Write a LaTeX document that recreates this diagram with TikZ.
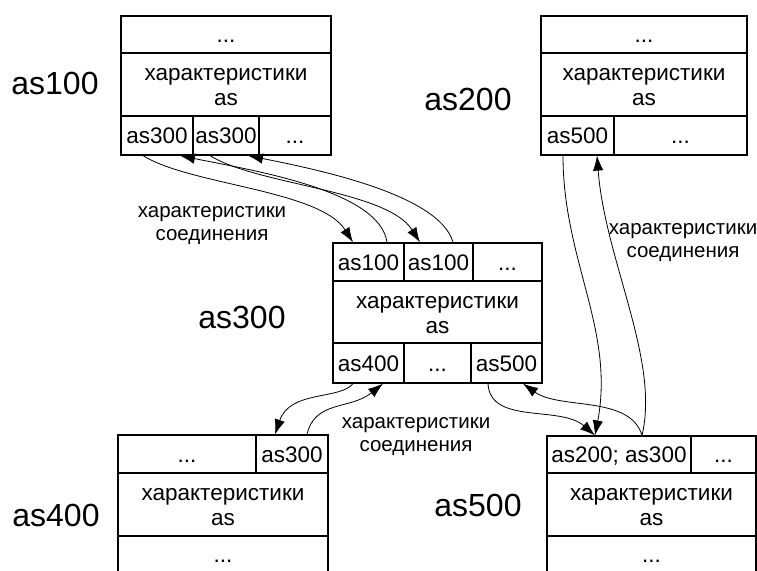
\documentclass[tikz,border=0pt]{standalone}
\usepackage{fontspec}
\setmainfont{Liberation Sans}
\usetikzlibrary{arrows.meta}

\begin{document}
\begin{tikzpicture}[x=1pt,y=-1pt,>={Latex[length=15pt,width=10.5pt]},
  cell/.style={draw,line width=1.2pt,inner sep=0pt,font=\fontsize{22.5}{25}\selectfont},
  port/.style={cell,text height=16pt,text depth=0pt},
  chars/.style={cell,align=center},
  asname/.style={font=\fontsize{32}{38}\selectfont},
  note/.style={align=center,font=\fontsize{20.5}{23}\selectfont},
  link/.style={->,line width=0.8pt}]
  \clip (0,0) rectangle (757,570);
  \node[port,minimum width=210pt,minimum height=37pt] (a) at (226,34.5) {...};
  \node[chars,minimum width=210pt,minimum height=63pt] (ac) at (226,84.5) {\strut характеристики\\as};
  \node[port,minimum width=72pt,minimum height=39pt] (a1) at (157,135.5) {as300};
  \node[port,minimum width=66pt,minimum height=39pt] (a2) at (226,135.5) {as300};
  \node[port,minimum width=72pt,minimum height=39pt] (a3) at (295,135.5) {...};
  \node[port,minimum width=206pt,minimum height=37pt] (b) at (644,34.5) {...};
  \node[chars,minimum width=206pt,minimum height=63pt] (bc) at (644,84.5) {\strut характеристики\\as};
  \node[port,minimum width=73pt,minimum height=39pt] (b1) at (577.5,135.5) {as500};
  \node[port,minimum width=133pt,minimum height=39pt] (b2) at (680.5,135.5) {...};
  \node[port,minimum width=71pt,minimum height=38pt] (c1) at (368.5,262) {as100};
  \node[port,minimum width=69pt,minimum height=38pt] (c2) at (438.5,262) {as100};
  \node[port,minimum width=69pt,minimum height=38pt] (c3) at (507.5,262) {...};
  \node[chars,minimum width=209pt,minimum height=62pt] (cc) at (437.5,312) {\strut характеристики\\as};
  \node[port,minimum width=71pt,minimum height=40pt] (c4) at (368.5,363) {as400};
  \node[port,minimum width=67pt,minimum height=40pt] (c5) at (437.5,363) {...};
  \node[port,minimum width=71pt,minimum height=40pt] (c6) at (506.5,363) {as500};
  \node[port,minimum width=138pt,minimum height=38pt] (d1) at (187,454) {...};
  \node[port,minimum width=72pt,minimum height=38pt] (d2) at (292,454) {as300};
  \node[chars,minimum width=210pt,minimum height=63pt] (dc) at (223,504.5) {\strut характеристики\\as};
  \node[port,minimum width=210pt,minimum height=36pt] (d) at (223,554) {...};
  \node[port,minimum width=144pt,minimum height=37pt] (e1) at (619,454.5) {as200; as300};
  \node[port,minimum width=65pt,minimum height=37pt] (e2) at (723.5,454.5) {...};
  \node[chars,minimum width=209pt,minimum height=63pt] (ec) at (651.5,504.5) {\strut характеристики\\as};
  \node[port,minimum width=209pt,minimum height=36pt] (e) at (651.5,554) {...};
  \node[asname] (la) at (55,83.5) {as100};
  \node[asname] (lb) at (468,99) {as200};
  \node[asname] (lc) at (242,317) {as300};
  \node[asname] (ld) at (56,515) {as400};
  \node[asname] (le) at (478,505) {as500};
  \node[note] (n1) at (212,226) {характеристики\\соединения};
  \node[note] (n2) at (683,243) {характеристики\\соединения};
  \node[note] (n3) at (416,437) {характеристики\\соединения};
  \draw[link] ([xshift=-14pt]a1.south) .. controls (190,185) and (320,190) .. ([xshift=-15.5pt]c1.north);
  \draw[link] ([xshift=18.5pt]c1.north) .. controls (380,190) and (250,170) .. ([xshift=23pt]a1.south);
  \draw[link] ([xshift=-16pt]a2.south) .. controls (257,185) and (387,190) .. ([xshift=-18.5pt]c2.north);
  \draw[link] ([xshift=14.5pt]c2.north) .. controls (440,195) and (320,170) .. ([xshift=22pt]a2.south);
  \draw[link] ([xshift=-14.5pt]b1.south) .. controls (563,260) and (615,330) .. ([xshift=-24pt]e1.north);
  \draw[link] ([xshift=23pt]e1.north) .. controls (660,360) and (605,260) .. ([xshift=19.5pt]b1.south);
  \draw[link] ([xshift=-18.5pt]c6.south) .. controls (490,425) and (560,405) .. ([xshift=-24pt]e1.north);
  \draw[link] ([xshift=23pt]e1.north) .. controls (630,395) and (560,410) .. ([xshift=16.5pt]c6.south);
  \draw[link] ([xshift=-15.5pt]c4.south) .. controls (340,400) and (290,390) .. ([xshift=-17pt]d2.north);
  \draw[link] ([xshift=15pt]d2.north) .. controls (315,400) and (350,410) .. ([xshift=14.5pt]c4.south);
\end{tikzpicture}
\end{document}
